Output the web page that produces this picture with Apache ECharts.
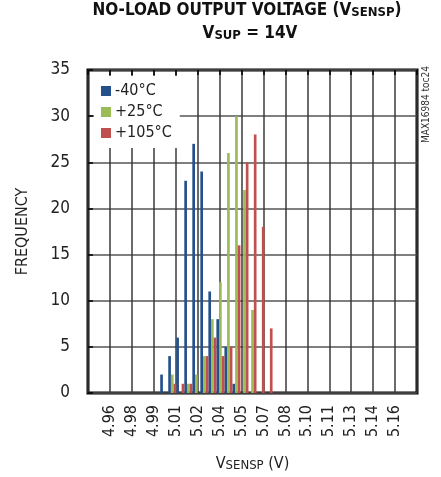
<!DOCTYPE html>
<html>
<head>
<meta charset="utf-8">
<script src="https://cdn.jsdelivr.net/npm/echarts@6/dist/echarts.min.js"></script>
<style>html,body{margin:0;padding:0;background:#fff;}#c{width:441px;height:477px;}</style>
</head>
<body>
<div id="c"></div>
<script>
// histogram bins (V) — 41 bins spanning the plot
const binCenters = ['4.9477','4.9532','4.9587','4.9642','4.9697','4.9752','4.9807','4.9862','4.9917','4.9971',
  '5.0026','5.0081','5.0136','5.0191','5.0246','5.0301','5.0356','5.0411','5.0465','5.0520',
  '5.0575','5.0630','5.0685','5.0740','5.0795','5.0850','5.0904','5.0959','5.1014','5.1069',
  '5.1124','5.1179','5.1234','5.1289','5.1344','5.1398','5.1453','5.1508','5.1563','5.1618','5.1673'];
const seriesNames = ['-40°C', '+25°C', '+105°C'];
const freqM40  = [0,0,0,0,0,0,0,0,0,2, 4,6,23,27,24,11,8,5,1,0, 0,0,0,0,0,0,0,0,0,0, 0,0,0,0,0,0,0,0,0,0,0];
const freqP25  = [0,0,0,0,0,0,0,0,0,0, 2,0,1,2,4,8,12,26,30,22, 9,0,0,0,0,0,0,0,0,0, 0,0,0,0,0,0,0,0,0,0,0];
const freqP105 = [0,0,0,0,0,0,0,0,0,0, 1,1,1,0,4,6,4,5,16,25, 28,18,7,0,0,0,0,0,0,0, 0,0,0,0,0,0,0,0,0,0,0];
const xTickLabels = ['4.96','4.98','4.99','5.01','5.02','5.04','5.05','5.07','5.08','5.10','5.11','5.13','5.14','5.16'];
const colors = ['#24508c', '#9bbb59', '#c0504d'];

const FONT = "'Liberation Sans Narrow', 'DejaVu Sans Condensed', sans-serif";
const chart = echarts.init(document.getElementById('c'));
const mk = (i, d) => ({
  name: seriesNames[i], type: 'bar', xAxisIndex: 0, yAxisIndex: 0,
  data: d.map(v => v === 0 ? null : v),
  barGap: '0%', barCategoryGap: '0%',
  itemStyle: { color: colors[i] }, z: 2
});
chart.setOption({
  animation: false,
  textStyle: { fontFamily: FONT },
  grid: { left: 88, top: 70, right: 24, bottom: 77, show: true, borderColor: '#000', borderWidth: 3, backgroundColor: 'transparent' },
  graphic: [
    { type: 'text', x: 247, y: 2, z: 10, style: {
      text: 'NO-LOAD OUTPUT VOLTAGE (V{s|SENSP})', align: 'center', fill: '#111',
      font: "bold 17px " + FONT,
      rich: { s: { fontSize: 13, fontWeight: 'bold', fontFamily: FONT, verticalAlign: 'bottom', lineHeight: 10, fill: '#111' } }
    }},
    { type: 'text', x: 250, y: 25, z: 10, style: {
      text: 'V{s|SUP} = 14V', align: 'center', fill: '#111',
      font: "bold 17px " + FONT,
      rich: { s: { fontSize: 13, fontWeight: 'bold', fontFamily: FONT, verticalAlign: 'bottom', lineHeight: 10, fill: '#111' } }
    }},
    { type: 'text', x: 421, y: 143, rotation: Math.PI / 2, z: 10, style: {
      text: 'MAX16984 toc24', align: 'left', verticalAlign: 'top', fill: '#333', font: "10px " + FONT
    }}
  ],
  legend: {
    orient: 'vertical', left: 94, top: 76, padding: [6, 8, 6, 7],
    backgroundColor: '#fff', itemWidth: 10, itemHeight: 10, itemGap: 3,
    icon: 'rect', data: seriesNames,
    textStyle: { fontSize: 16, color: '#222', fontFamily: FONT, lineHeight: 18, padding: [0, 0, 0, -1] }
  },
  xAxis: [
    { type: 'category', data: binCenters, show: false, boundaryGap: true },
    { type: 'value', min: 0, max: 15, interval: 1, position: 'bottom',
      axisLine: { show: false }, axisTick: { show: false },
      splitLine: { show: true, lineStyle: { color: '#3a3a3a', width: 1.5 } },
      axisLabel: { rotate: 90, margin: 12, fontSize: 16, color: '#222', fontFamily: FONT,
        formatter: v => xTickLabels[Math.round(v) - 1] || '' },
      name: 'V{s|SENSP} (V)', nameLocation: 'middle', nameGap: 63,
      nameTextStyle: { fontSize: 16, color: '#222', fontFamily: FONT,
        rich: { s: { fontSize: 13, fontFamily: FONT, color: '#222', verticalAlign: 'bottom', lineHeight: 10 } } } },
    { type: 'value', min: 0, max: 15, interval: 1, position: 'top',
      axisLine: { show: false }, axisLabel: { show: false }, splitLine: { show: false },
      axisTick: { show: true, inside: true, length: 5, lineStyle: { color: '#000', width: 1.5 } } }
  ],
  yAxis: {
    type: 'value', min: 0, max: 35, interval: 5,
    axisLine: { show: false },
    axisTick: { show: true, inside: true, length: 5, lineStyle: { color: '#000', width: 1.5 } },
    splitLine: { show: true, lineStyle: { color: '#555', width: 1.5 } },
    axisLabel: { fontSize: 17, color: '#222', margin: 18, fontFamily: FONT },
    name: 'FREQUENCY', nameLocation: 'middle', nameGap: 57,
    nameTextStyle: { fontSize: 16, color: '#222', fontFamily: FONT }
  },
  series: [mk(0, freqM40), mk(1, freqP25), mk(2, freqP105)]
});
</script>
</body>
</html>
